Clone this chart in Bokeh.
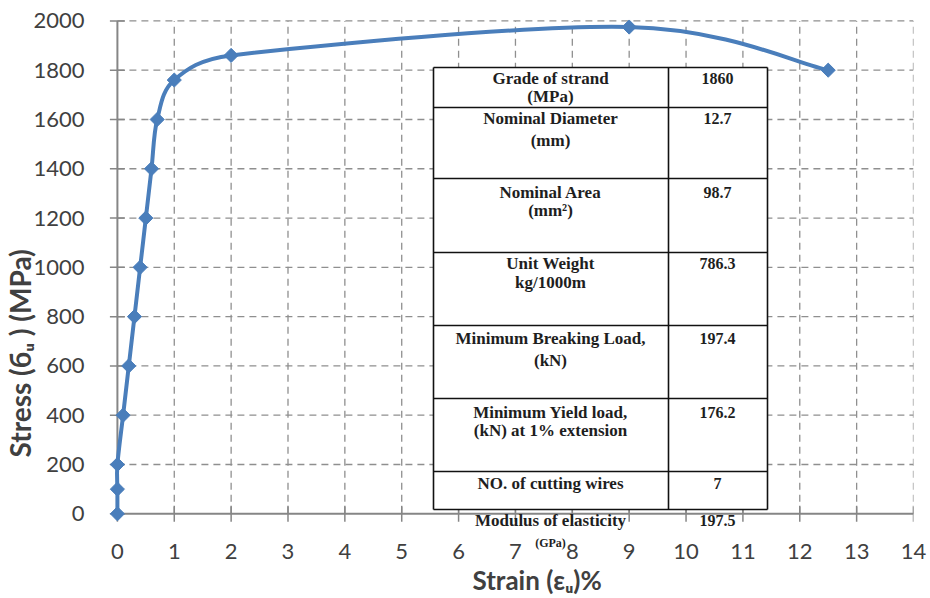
import math
from bokeh.plotting import figure
from bokeh.models import Range1d, FixedTicker, Label, Title
from bokeh.embed import file_html
from bokeh.resources import INLINE

# ---------------- data ----------------
strain = [0, 0, 0, 0.1, 0.2, 0.3, 0.4, 0.5, 0.6, 0.7, 1.0, 2.0, 9.0, 12.5]
stress = [0, 100, 200, 400, 600, 800, 1000, 1200, 1400, 1600, 1760, 1860, 1975, 1800]
x_ticks = list(range(0, 15))
y_ticks = list(range(0, 2001, 200))
x_min, x_max = 0, 14
y_min, y_max = 0, 2000

table_names = ["Grade of strand", "Nominal Diameter", "Nominal Area", "Unit Weight",
               "Minimum Breaking Load,", "Minimum Yield load,", "NO. of cutting wires",
               "Modulus of elasticity"]
table_units = ["(MPa)", "(mm)", "(mm\u00b2)", "kg/1000m", "(kN)", "(kN) at 1% extension", "",
               "(GPa)"]
table_values = ["1860", "12.7", "98.7", "786.3", "197.4", "176.2", "7", "197.5"]

x_title = "Strain (\u03b5\u1d64)%"
y_title = "Stress (\u0431\u1d64 ) (MPa)"

# ---------------- layout ----------------
FRAME_L, FRAME_W, X_START, X_END = 97, 816, -0.35, 14
FRAME_T, FRAME_H, Y_START, Y_END = 13, 539, -157, 2030
SX = FRAME_W / (X_END - X_START)
SY = FRAME_H / (Y_END - Y_START)


def dx(px):
    return X_START + (px - FRAME_L) / SX


def dy(py):
    return Y_END - (py - FRAME_T) / SY


def to_px(x, y):
    return (FRAME_L + (x - X_START) * SX, FRAME_T + (Y_END - y) * SY)


BLUE = "#4a7ebb"
GRID = "#8f8f8f"
AXIS = "#868686"
TXT = "#404040"

p = figure(frame_width=FRAME_W, frame_height=FRAME_H,
           x_range=Range1d(X_START, X_END), y_range=Range1d(Y_START, Y_END),
           output_backend="svg", toolbar_location=None,
           min_border_left=FRAME_L, min_border_right=17,
           min_border_top=FRAME_T, min_border_bottom=598 - FRAME_T - FRAME_H)
p.outline_line_color = None
p.xgrid.visible = False
p.ygrid.visible = False
p.background_fill_color = "white"
p.border_fill_color = "white"

for ax, ticks, standoff in ((p.xaxis, x_ticks, -15), (p.yaxis, y_ticks, 7)):
    ax.ticker = FixedTicker(ticks=ticks)
    ax.axis_line_color = None
    ax.major_tick_line_color = None
    ax.minor_tick_line_color = None
    ax.major_label_standoff = standoff
    ax.major_label_text_font = "Lato"
    ax.major_label_text_font_size = "22px"
    ax.major_label_text_color = TXT

# grid lines (dashed), limited to the axis extents
gx = x_ticks[1:]
p.segment(x0=gx, y0=[y_min] * len(gx), x1=gx, y1=[y_max] * len(gx),
          line_color=GRID, line_width=1.3, line_dash="7 5")
gy = y_ticks[1:]
p.segment(x0=[x_min] * len(gy), y0=gy, x1=[x_max] * len(gy), y1=gy,
          line_color=GRID, line_width=1.3, line_dash="7 5")

# axis lines and crossing ticks
p.segment(x0=[x_min, x_min], y0=[y_min, y_min], x1=[x_min, x_max], y1=[y_max, y_min],
          line_color=AXIS, line_width=2)
p.scatter(x=[x_min] * len(y_ticks), y=y_ticks, marker="dash", size=15,
          line_color=AXIS, line_width=1.5)
p.scatter(x=x_ticks, y=[y_min] * len(x_ticks), marker="dash", angle=math.pi / 2, size=16,
          line_color=AXIS, line_width=1.5)

# ---------------- table ----------------
T_L, T_M, T_R = 433, 668, 767
row_lines = [67, 107, 178, 252, 325, 398, 471, 509]
p.quad(left=[dx(T_L)], right=[dx(T_R)], top=[dy(row_lines[0])], bottom=[dy(row_lines[-1])],
       fill_color="white", line_color=None)
p.segment(x0=[dx(T_L)] * len(row_lines), y0=[dy(r) for r in row_lines],
          x1=[dx(T_R)] * len(row_lines), y1=[dy(r) for r in row_lines],
          line_color="#111111", line_width=1.6)
p.segment(x0=[dx(T_L), dx(T_M), dx(T_R)], y0=[dy(row_lines[0])] * 3,
          x1=[dx(T_L), dx(T_M), dx(T_R)], y1=[dy(row_lines[-1])] * 3,
          line_color="#111111", line_width=1.6)

line1_y = [78, 118, 192, 263, 338, 412, 483, 520]
line2_y = [96, 140, 210, 282, 360, 430, 0, 542]
common = dict(text_align="center", text_baseline="middle", text_font="Liberation Serif",
              text_font_style="bold", text_color="#1e1e1e")
for i in range(len(table_names)):
    p.add_layout(Label(x=dx(550), y=dy(line1_y[i]), text=table_names[i],
                       text_font_size="17px", **common))
    p.add_layout(Label(x=dx(717), y=dy(line1_y[i]), text=table_values[i],
                       text_font_size="16px", **common))
    if table_units[i]:
        fs = "12px" if i == len(table_names) - 1 else "17px"
        p.add_layout(Label(x=dx(550), y=dy(line2_y[i]), text=table_units[i],
                           text_font_size=fs, **common))

# ---------------- curve ----------------
pts = [to_px(x, y) for x, y in zip(strain, stress)]
n = len(pts)
bx0, by0, bx1, by1, cx0, cy0, cx1, cy1 = ([] for _ in range(8))


def dist(a, b):
    return math.hypot(a[0] - b[0], a[1] - b[1])


for i in range(n - 1):
    p0 = pts[i - 1] if i > 0 else pts[i]
    p1 = pts[i]
    p2 = pts[i + 1]
    p3 = pts[i + 2] if i + 2 < n else pts[i + 1]
    d12, d02, d13 = dist(p1, p2), dist(p0, p2), dist(p1, p3)
    f0 = f3 = 1 / 6
    if d02 > 0 and d02 / 6 >= d12 / 2:
        f0 = d12 / d02 / 2
    if d13 > 0 and d13 / 6 >= d12 / 2:
        f3 = d12 / d13 / 2
    c1 = (p1[0] + (p2[0] - p0[0]) * f0, p1[1] + (p2[1] - p0[1]) * f0)
    c2 = (p2[0] - (p3[0] - p1[0]) * f3, p2[1] - (p3[1] - p1[1]) * f3)
    bx0.append(strain[i]); by0.append(stress[i])
    bx1.append(strain[i + 1]); by1.append(stress[i + 1])
    cx0.append(dx(c1[0])); cy0.append(dy(c1[1]))
    cx1.append(dx(c2[0])); cy1.append(dy(c2[1]))

p.bezier(x0=bx0, y0=by0, x1=bx1, y1=by1, cx0=cx0, cy0=cy0, cx1=cx1, cy1=cy1,
         line_color=BLUE, line_width=4, line_cap="round")
p.scatter(x=strain, y=stress, marker="square", angle=math.pi / 4, size=10,
          fill_color=BLUE, line_color=BLUE)

# ---------------- titles ----------------
p.add_layout(Title(text=x_title, align="left", offset=472 - FRAME_L, standoff=0,
                   text_font="Lato", text_font_style="bold", text_font_size="26px",
                   text_color=TXT), "below")
p.add_layout(Title(text=y_title, align="left", offset=FRAME_T + FRAME_H - 457, standoff=-12,
                   text_font="Lato", text_font_style="bold", text_font_size="28px",
                   text_color=TXT), "left")

open("out.html", "w").write(file_html(p, INLINE))
